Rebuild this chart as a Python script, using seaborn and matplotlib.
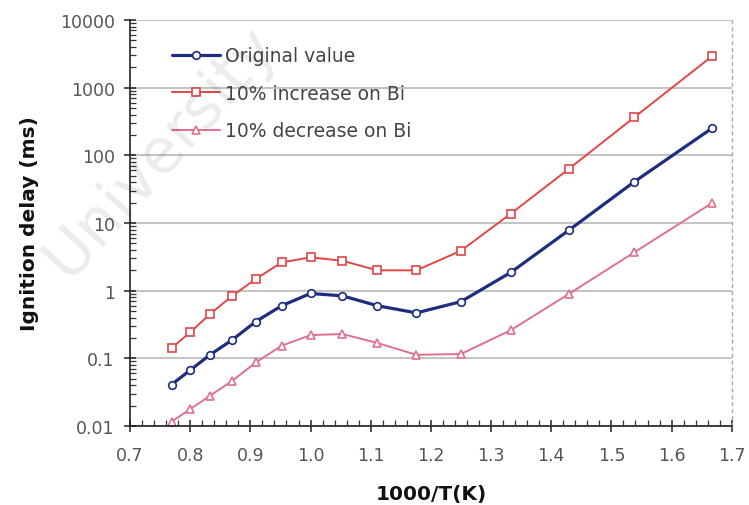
import numpy as np
import pandas as pd
import matplotlib
matplotlib.use("Agg")
import matplotlib.pyplot as plt
from matplotlib.ticker import MultipleLocator, LogLocator, NullFormatter
import seaborn as sns

# ---- data ----
inv_T = [0.769, 0.800, 0.833, 0.870, 0.909, 0.952, 1.000, 1.053, 1.111,
         1.176, 1.250, 1.333, 1.429, 1.538, 1.667]
original = [0.041, 0.067, 0.113, 0.188, 0.35, 0.60, 0.91, 0.84, 0.60,
            0.47, 0.69, 1.87, 7.8, 40.7, 251]
increase_bi = [0.142, 0.243, 0.452, 0.84, 1.49, 2.62, 3.11, 2.77, 2.0,
               2.0, 3.9, 13.8, 62.8, 365, 2905]
decrease_bi = [0.0116, 0.0178, 0.0281, 0.0467, 0.087, 0.154, 0.221, 0.229, 0.169,
               0.113, 0.116, 0.262, 0.893, 3.69, 19.7]
series_names = ["Original value", "10% increase on Bi", "10% decrease on Bi"]
y_ticks = [0.01, 0.1, 1, 10, 100, 1000, 10000]
y_tick_labels = ["0.01", "0.1", "1", "10", "100", "1000", "10000"]
x_ticks = [0.7, 0.8, 0.9, 1.0, 1.1, 1.2, 1.3, 1.4, 1.5, 1.6, 1.7]
x_tick_labels = ["0.7", "0.8", "0.9", "1.0", "1.1", "1.2", "1.3", "1.4", "1.5", "1.6", "1.7"]

sns.set_theme(style="white")
plt.rcParams["font.family"] = ["DejaVu Sans"]

fig = plt.figure(figsize=(7.49, 5.06), dpi=100)
ax = fig.add_axes([0.1736, 0.156, 0.8034, 0.8025])

# faint watermark behind the plot
fig.text(0.215, 0.70, "University", fontsize=45, color="#000000", alpha=0.08,
         rotation=48, ha="center", va="center", zorder=0)
ax.patch.set_alpha(0)

styles = [
    dict(color="#1f2d80", marker="o", lw=2.3, ms=5.5),
    dict(color="#e04646", marker="s", lw=1.4, ms=6),
    dict(color="#e0708c", marker="^", lw=1.4, ms=6),
]
for name, vals, st in zip(series_names, [original, increase_bi, decrease_bi], styles):
    df = pd.DataFrame({"x": inv_T, "y": vals})
    sns.lineplot(data=df, x="x", y="y", ax=ax, color=st["color"], lw=st["lw"],
                 marker=st["marker"], markersize=st["ms"], markerfacecolor="white",
                 markeredgecolor=st["color"], markeredgewidth=1.2, label=name)

ax.set_yscale("log")
ax.set_ylim(0.01, 10000)
ax.set_xlim(0.7, 1.7)
ax.set_yticks(y_ticks)
ax.set_yticklabels(y_tick_labels)
ax.set_xticks(x_ticks)
ax.set_xticklabels(x_tick_labels)
ax.xaxis.set_minor_locator(MultipleLocator(0.02))
ax.yaxis.set_minor_locator(LogLocator(base=10, subs=np.arange(2, 10)))
ax.yaxis.set_minor_formatter(NullFormatter())

ax.grid(True, axis="y", which="major", color="#c4c4c4", lw=1.5)
ax.grid(False, axis="x")

for s in ["left", "bottom"]:
    ax.spines[s].set_color("#222222")
    ax.spines[s].set_linewidth(1.2)
ax.spines["top"].set_visible(False)
ax.spines["right"].set_color("#aaaaaa")
ax.spines["right"].set_linestyle((0, (2, 3)))
ax.spines["right"].set_linewidth(1.0)

ax.tick_params(axis="both", which="major", direction="inout", length=8, width=1.1,
               color="#222222", labelsize=12.5, labelcolor="#555555",
               left=True, bottom=True)
ax.tick_params(axis="x", which="major", pad=10)
ax.tick_params(axis="y", which="major", pad=7)
ax.tick_params(axis="both", which="minor", direction="in", length=4, width=0.9,
               color="#333333", left=True, bottom=True)

ax.set_xlabel("1000/T(K)", fontsize=14.5, fontweight="bold", color="#111111", labelpad=15)
ax.set_ylabel("Ignition delay (ms)", fontsize=14.5, fontweight="bold", color="#111111", labelpad=15)

leg = ax.legend(loc="upper left", bbox_to_anchor=(0.07, 0.935), frameon=False,
                fontsize=13.5, handlelength=2.56, handletextpad=0.27, labelspacing=0.98,
                borderaxespad=0, borderpad=0)
for t in leg.get_texts():
    t.set_color("#444444")

fig.savefig("out.png", dpi=100, facecolor="white")
